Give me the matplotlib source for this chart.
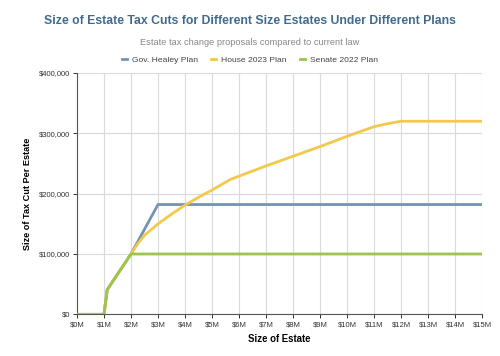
import matplotlib
matplotlib.use("Agg")
import matplotlib.pyplot as plt
from matplotlib.ticker import FuncFormatter

plt.rcParams['font.family'] = ['Liberation Sans', 'DejaVu Sans']

# Estate size in $M, tax cut in $
healey_x = [0, 1.0, 1.12, 2.0, 3.0, 15.0]
healey_y = [0, 0, 41000, 100000, 182000, 182000]

house_x = [0, 1.0, 1.12, 2.0, 2.25, 2.5, 3.0, 3.5, 4.0, 4.5, 5.0, 5.7, 6.0,
           7.0, 8.0, 9.0, 10.0, 11.0, 11.5, 12.0, 15.0]
house_y = [0, 0, 41000, 100000, 117000, 131000, 150000, 166000, 181000,
           194000, 206000, 224000, 229000, 246000, 262000, 278000, 295000,
           311000, 316000, 320000, 320000]

senate_x = [0, 1.0, 1.12, 2.0, 15.0]
senate_y = [0, 0, 41000, 100000, 100000]

x_ticks = list(range(0, 16))
y_ticks = [0, 100000, 200000, 300000, 400000]

healey_color = "#7393b3"
house_color = "#f2c94c"
senate_color = "#9cc54a"

fig = plt.figure(figsize=(5, 3.56), dpi=100)
ax = fig.add_axes([0.154, 0.117, 0.81, 0.678])

ax.plot(house_x, house_y, color=house_color, lw=2.0, label="House 2023 Plan", zorder=3)
ax.plot(healey_x, healey_y, color=healey_color, lw=2.0, label="Gov. Healey Plan", zorder=2)
ax.plot(senate_x, senate_y, color=senate_color, lw=2.0, label="Senate 2022 Plan", zorder=4)

ax.set_xlim(0, 15)
ax.set_ylim(0, 400000)
ax.set_xticks(x_ticks)
ax.set_yticks(y_ticks)
ax.xaxis.set_major_formatter(FuncFormatter(lambda v, p: "$%dM" % v))
ax.yaxis.set_major_formatter(FuncFormatter(lambda v, p: "${:,.0f}".format(v)))
ax.tick_params(labelsize=5.5, colors="#333333", length=3, width=0.7, pad=2)

ax.grid(True, color="#dadada", lw=0.8)
ax.set_axisbelow(True)
for side in ["top", "right"]:
    ax.spines[side].set_visible(False)
for side in ["left", "bottom"]:
    ax.spines[side].set_color("#555555")
    ax.spines[side].set_linewidth(0.8)

ax.set_xlabel("Size of Estate", fontsize=6.9, fontweight="bold", labelpad=4)
ax.set_ylabel("Size of Tax Cut Per Estate", fontsize=6.6, fontweight="bold", labelpad=5)

fig.text(0.5, 0.94, "Size of Estate Tax Cuts for Different Size Estates Under Different Plans",
         ha="center", va="center", fontsize=8.8, fontweight="bold", color="#3f6b8e")
fig.text(0.5, 0.882, "Estate tax change proposals compared to current law",
         ha="center", va="center", fontsize=6.7, color="#888888")

handles, labels = ax.get_legend_handles_labels()
order = [1, 0, 2]
fig.legend([handles[i] for i in order], [labels[i] for i in order],
           loc="center", bbox_to_anchor=(0.5, 0.831), ncol=3, frameon=False,
           fontsize=6.1, handlelength=0.6, handletextpad=0.6, columnspacing=1.5,
           labelcolor="#444444")

fig.savefig("out.png", dpi=100)
